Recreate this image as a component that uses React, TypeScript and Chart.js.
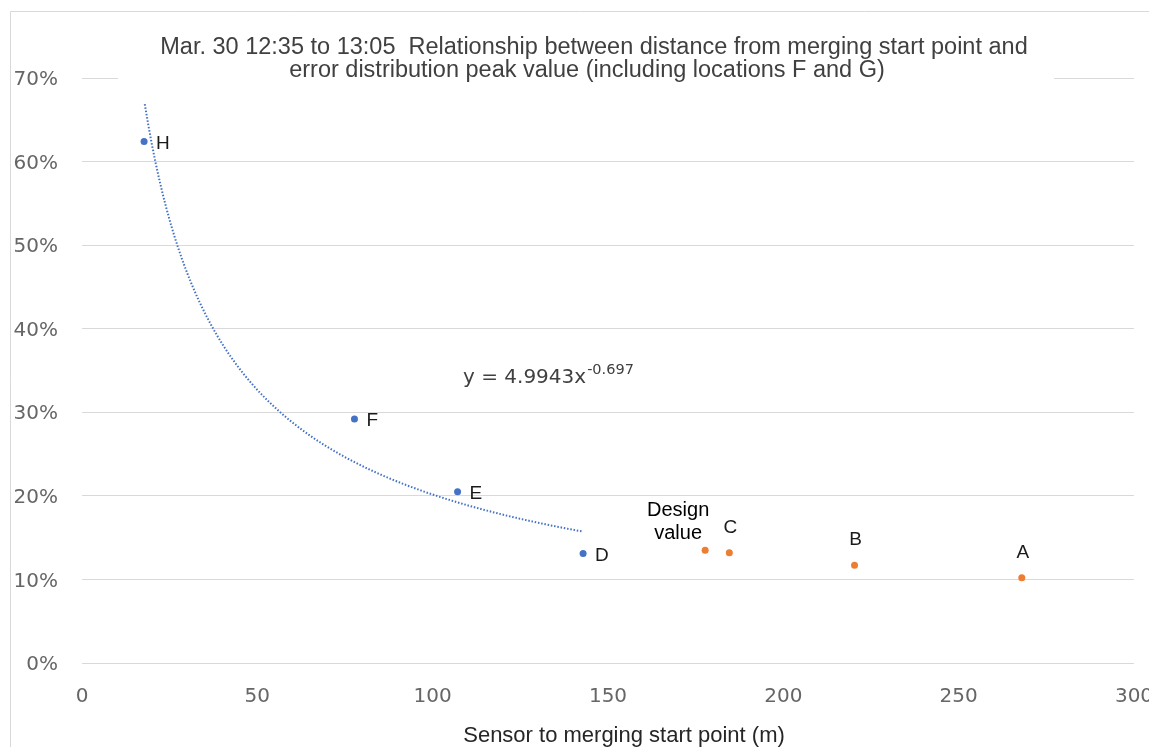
import React, { useEffect, useRef } from 'react';
import { Chart, registerables } from 'chart.js';

Chart.register(...registerables);

// ---- data ----
const titleLines = [
  'Mar. 30 12:35 to 13:05  Relationship between distance from merging start point and',
  'error distribution peak value (including locations F and G)',
];
const xAxisTitle = 'Sensor to merging start point (m)';

const measuredX = [17.7, 77.7, 107.1, 142.9];
const measuredY = [62.4, 29.2, 20.5, 13.1];
const measuredLabels = ['H', 'F', 'E', 'D'];

const otherX = [177.7, 184.6, 220.3, 268.0];
const otherY = [13.5, 13.2, 11.7, 10.2];
const otherLabels = [['Design', 'value'], ['C'], ['B'], ['A']];

const xTickValues = [0, 50, 100, 150, 200, 250, 300];
const yTickValues = [0, 10, 20, 30, 40, 50, 60, 70];
const yTickLabels = ['0%', '10%', '20%', '30%', '40%', '50%', '60%', '70%'];

// trendline (power fit shown on the chart)
const trendCoef = 4.9943;
const trendExp = -0.697;
const trendStartX = 17.9;
const trendEndX = 142.5;
const trendLabelMain = 'y = 4.9943x';
const trendLabelSup = '-0.697';

function buildTrend() {
  const pts: { x: number; y: number }[] = [];
  const n = 120;
  for (let i = 0; i <= n; i++) {
    const x = trendStartX + ((trendEndX - trendStartX) * i) / n;
    pts.push({ x, y: trendCoef * Math.pow(x, trendExp) * 100 });
  }
  return pts;
}

const BLUE = '#4472C4';
const ORANGE = '#ED7D31';

const decorPlugin = {
  id: 'decor',
  beforeDraw(chart: any) {
    const ctx = chart.ctx;
    ctx.save();
    ctx.fillStyle = '#ffffff';
    ctx.fillRect(0, 0, chart.width, chart.height);
    ctx.strokeStyle = '#d9d9d9';
    ctx.lineWidth = 1;
    ctx.beginPath();
    ctx.moveTo(10.5, chart.height);
    ctx.lineTo(10.5, 11.5);
    ctx.lineTo(chart.width, 11.5);
    ctx.stroke();
    ctx.restore();
  },
  afterDatasetsDraw(chart: any) {
    const ctx = chart.ctx;
    ctx.save();
    // labels for measured points (right of point)
    const m1 = chart.getDatasetMeta(1);
    ctx.fillStyle = '#1a1a1a';
    ctx.font = '19px "Liberation Sans", Arial, sans-serif';
    ctx.textAlign = 'left';
    ctx.textBaseline = 'middle';
    m1.data.forEach((pt: any, i: number) => {
      ctx.fillText(measuredLabels[i], pt.x + 12, pt.y + 2);
    });
    // labels for other points (above point)
    const m2 = chart.getDatasetMeta(2);
    ctx.textAlign = 'center';
    m2.data.forEach((pt: any, i: number) => {
      const lines = otherLabels[i];
      if (lines.length > 1) {
        ctx.font = '20px "Liberation Sans", Arial, sans-serif';
        ctx.fillStyle = '#000000';
        ctx.fillText(lines[0], pt.x - 27, pt.y - 40);
        ctx.fillText(lines[1], pt.x - 27, pt.y - 17);
      } else {
        ctx.font = '19px "Liberation Sans", Arial, sans-serif';
        ctx.fillStyle = '#1a1a1a';
        ctx.fillText(lines[0], pt.x + 1, pt.y - 25);
      }
    });
    // trend equation
    ctx.fillStyle = '#404040';
    ctx.textAlign = 'left';
    ctx.textBaseline = 'alphabetic';
    ctx.font = '20px "DejaVu Sans", Verdana, sans-serif';
    ctx.fillText(trendLabelMain, 463, 383);
    const w = ctx.measureText(trendLabelMain).width;
    ctx.font = '14.5px "DejaVu Sans", Verdana, sans-serif';
    ctx.fillText(trendLabelSup, 463 + w + 1, 374);
    ctx.restore();
  },
  afterDraw(chart: any) {
    const ctx = chart.ctx;
    ctx.save();
    ctx.fillStyle = '#ffffff';
    ctx.fillRect(118, 30, 936, 56);
    ctx.fillStyle = '#404040';
    ctx.font = '23.5px "Liberation Sans", Arial, sans-serif';
    ctx.textAlign = 'center';
    ctx.textBaseline = 'alphabetic';
    ctx.fillText(titleLines[0], 594, 54);
    ctx.fillText(titleLines[1], 587, 77);
    ctx.fillStyle = '#262626';
    ctx.font = '22px "Liberation Sans", Arial, sans-serif';
    ctx.fillText(xAxisTitle, 624, 742);
    ctx.restore();
  },
};

export default function App() {
  const ref = useRef<HTMLCanvasElement | null>(null);
  useEffect(() => {
    if (!ref.current) return;
    const tickFont = { family: '"DejaVu Sans", Verdana, sans-serif', size: 20 };
    const chart = new Chart(ref.current, {
      type: 'scatter',
      data: {
        datasets: [
          {
            label: 'trend',
            data: buildTrend(),
            showLine: true,
            borderColor: BLUE,
            borderWidth: 2,
            borderDash: [1.5, 1.8],
            pointRadius: 0,
            fill: false,
          } as any,
          {
            label: 'measured',
            data: measuredX.map((x, i) => ({ x, y: measuredY[i] })),
            backgroundColor: BLUE,
            borderColor: BLUE,
            borderWidth: 0,
            pointRadius: 3.5,
          },
          {
            label: 'other',
            data: otherX.map((x, i) => ({ x, y: otherY[i] })),
            backgroundColor: ORANGE,
            borderColor: ORANGE,
            borderWidth: 0,
            pointRadius: 3.5,
          },
        ],
      },
      options: {
        animation: false,
        responsive: true,
        maintainAspectRatio: false,
        layout: { padding: { top: 78, right: 15, left: 0, bottom: 0 } },
        plugins: {
          legend: { display: false },
          title: { display: false },
          tooltip: { enabled: false },
        },
        scales: {
          x: {
            type: 'linear',
            min: 0,
            max: 300,
            afterBuildTicks: (s: any) => {
              s.ticks = xTickValues.map((v) => ({ value: v }));
            },
            ticks: {
              color: '#666666',
              font: tickFont,
              padding: 22,
              maxRotation: 0,
              autoSkip: false,
            },
            grid: { display: false, drawTicks: false },
            border: { display: false },
            afterFit: (s: any) => {
              s.height = 84;
              s.paddingLeft = 0;
              s.paddingRight = 0;
            },
          },
          y: {
            type: 'linear',
            min: 0,
            max: 70,
            afterBuildTicks: (s: any) => {
              s.ticks = yTickValues.map((v) => ({ value: v }));
            },
            ticks: {
              color: '#666666',
              font: tickFont,
              padding: 24,
              labelOffset: 2,
              autoSkip: false,
              callback: (v: any) => yTickLabels[yTickValues.indexOf(Number(v))] ?? '',
            },
            grid: { color: '#d9d9d9', lineWidth: 1, drawTicks: false },
            border: { display: false },
            afterFit: (s: any) => {
              s.width = 82;
              s.paddingTop = 0;
              s.paddingBottom = 0;
            },
          },
        },
      } as any,
      plugins: [decorPlugin],
    });
    return () => chart.destroy();
  }, []);
  return (
    <div style={{ position: 'fixed', left: 0, top: 0, width: 1149, height: 747, background: '#fff' }}>
      <canvas ref={ref} />
    </div>
  );
}
